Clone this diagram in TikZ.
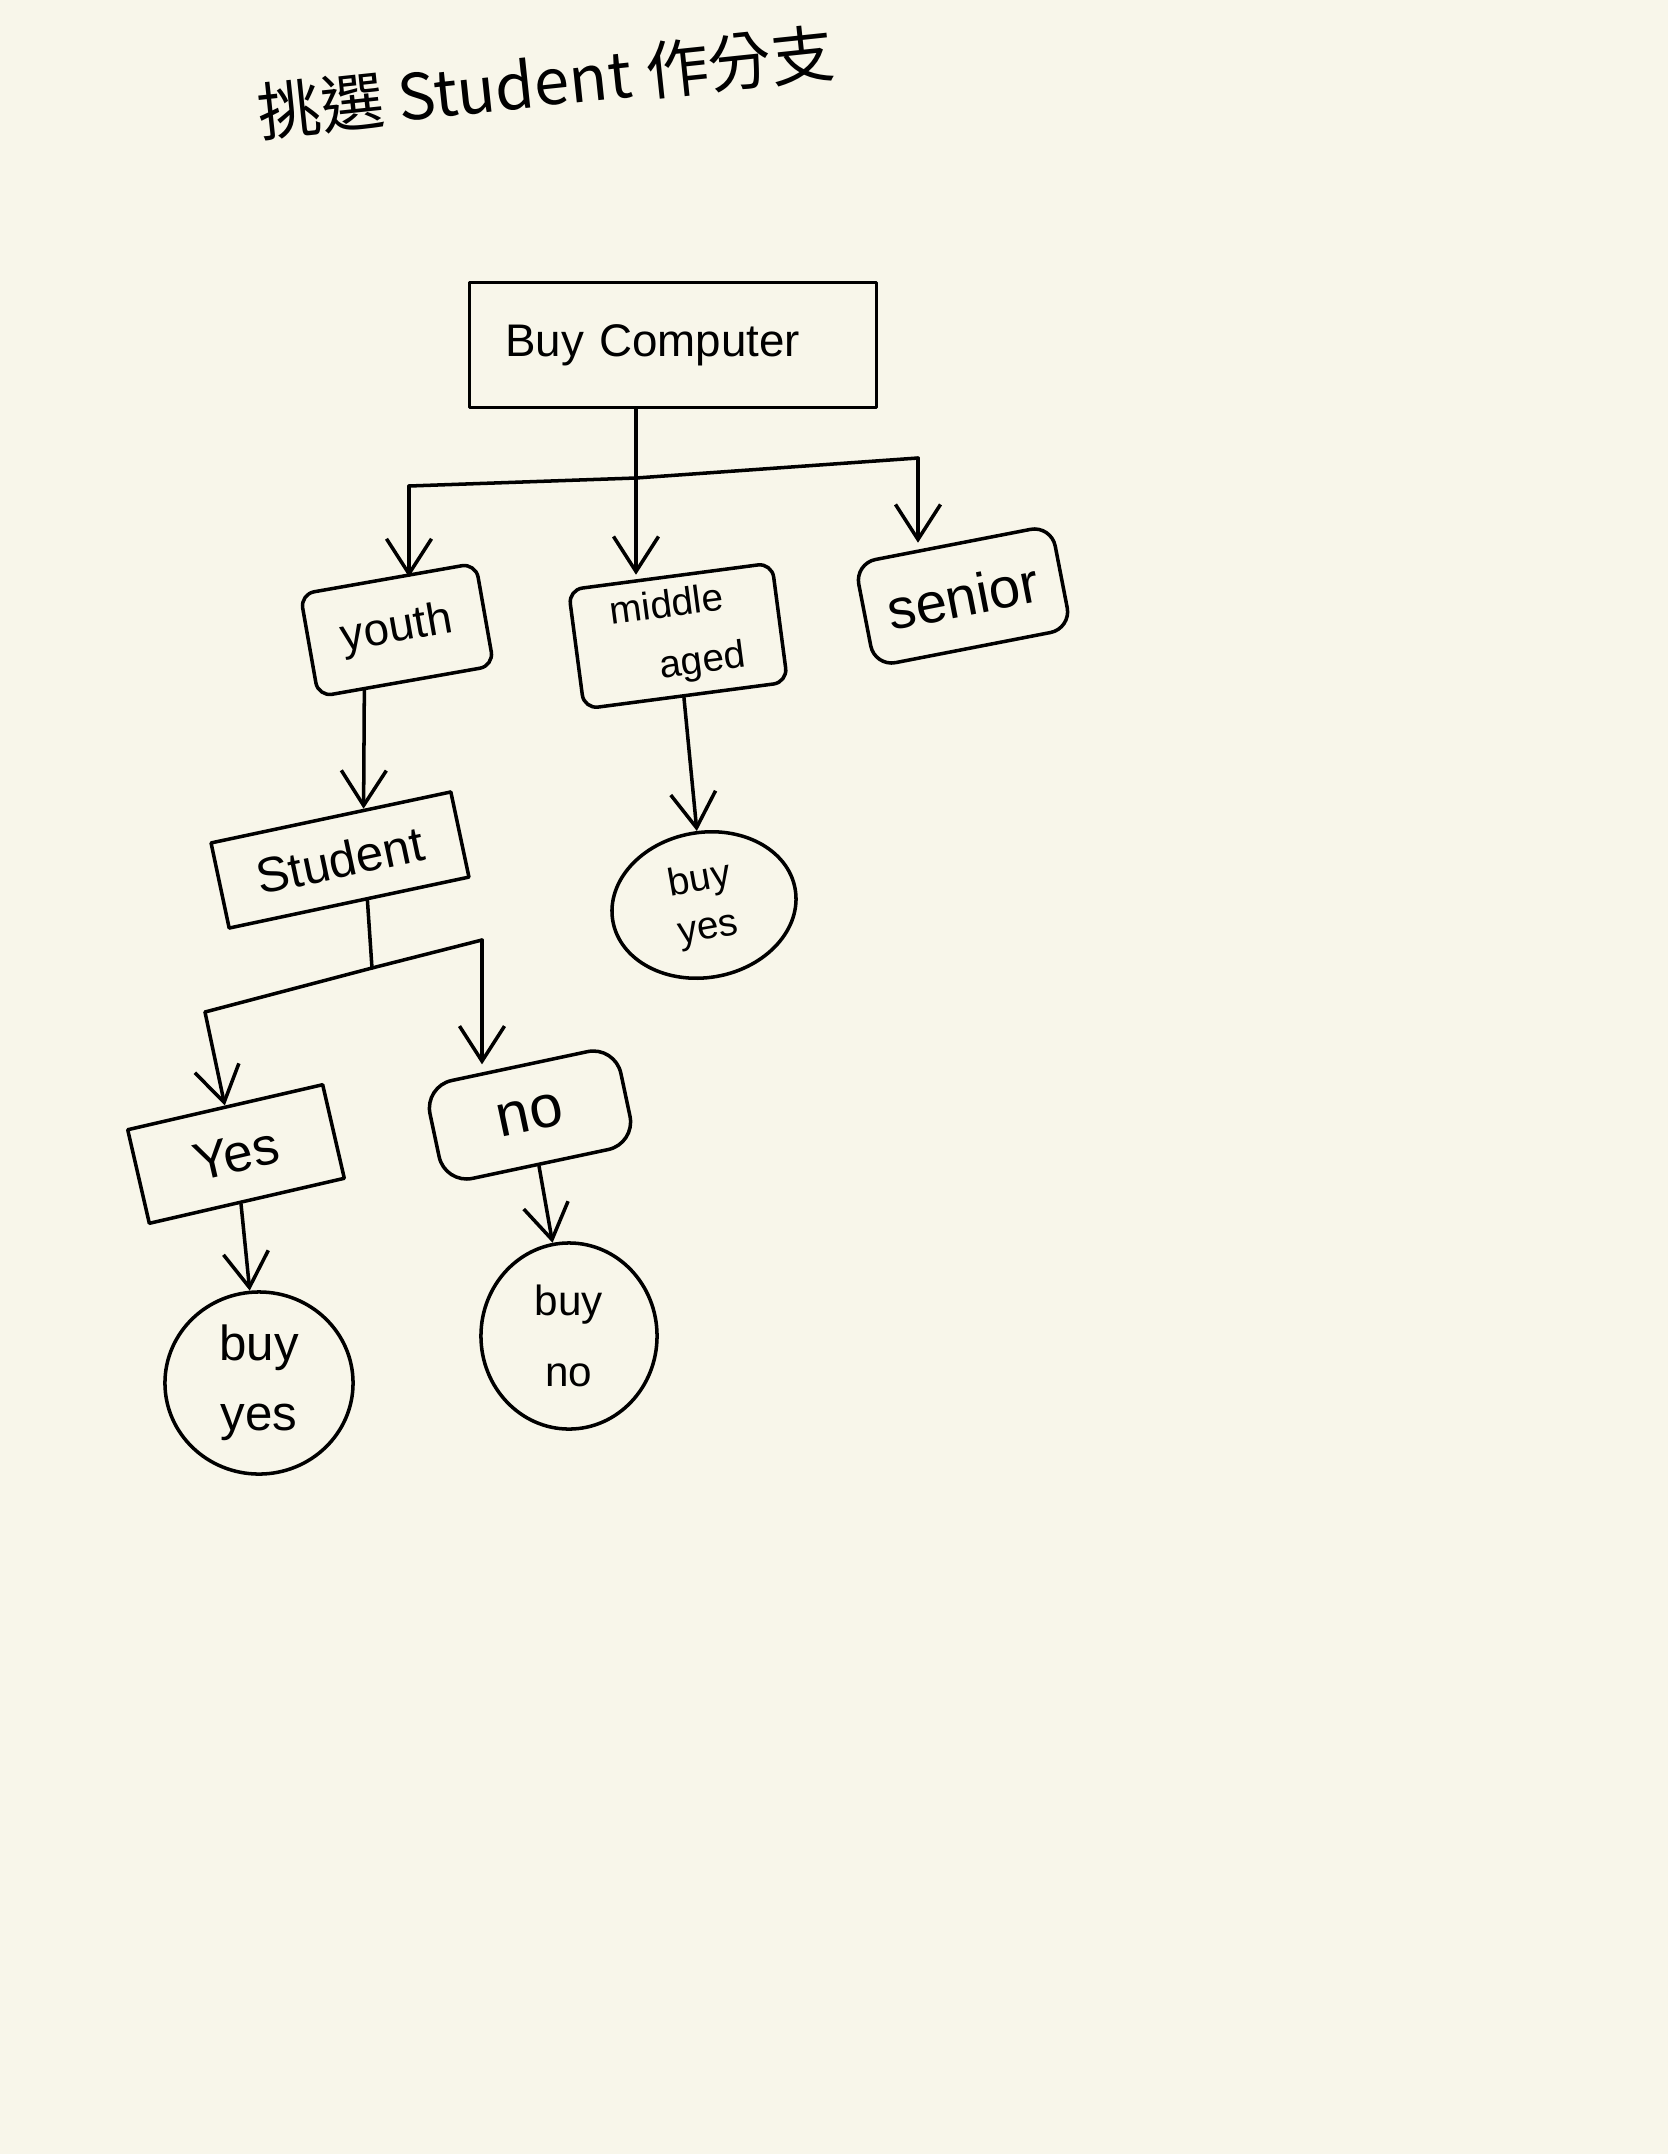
\documentclass[tikz,border=0pt]{standalone}
\usepackage{fontspec}
\setmainfont{Liberation Sans}
\newfontfamily\cjk{Noto Sans CJK TC}
\usetikzlibrary{arrows.meta,shapes.geometric,calc}
\definecolor{paper}{HTML}{F8F6EA}
\begin{document}
\begin{tikzpicture}[x=0.01cm,y=-0.01cm,
  ink/.style={line width=1pt,draw=black,line cap=round,line join=round},
  arr/.style={ink,-{Straight Barb[length=3.5mm,width=4.5mm]}},
  box/.style={ink,rectangle,inner sep=0pt},
  blob/.style={ink,ellipse,inner sep=0pt,align=center}]
\fill[paper] (0,0) rectangle (1668,2154);
\useasboundingbox (0,0) rectangle (1668,2154);

% title
\node[font=\cjk\fontsize{18}{20}\selectfont,rotate=6] (title) at (546,82) {挑選 Student 作分支};

% nodes
\node[ink,rectangle,text width=3.35cm,inner xsep=0.36cm,align=left,minimum height=1.25cm,
      font=\fontsize{13}{15}\selectfont] (root) at (673,345) {Buy Computer};
\node[box,rounded corners=4pt,minimum width=1.78cm,minimum height=1.04cm,rotate=10,
      font=\fontsize{13}{15}\selectfont] (youth) at (397,630) {youth};
\node[box,rounded corners=4pt,minimum width=2.05cm,minimum height=1.2cm,rotate=7.5,align=left,
      font=\fontsize{11}{17}\selectfont] (middle) at (678,636) {middle\\\hspace*{1.1em}aged};
\node[box,rounded corners=6pt,minimum width=2.0cm,minimum height=1.05cm,rotate=11,
      font=\fontsize{16}{18}\selectfont] (senior) at (963,596) {senior};
\node[box,minimum width=2.45cm,minimum height=0.87cm,rotate=12,
      font=\fontsize{14}{16}\selectfont] (student) at (340,860) {Student};
\node[blob,minimum width=1.85cm,minimum height=1.45cm,rotate=10,
      font=\fontsize{11}{14}\selectfont] (buy1) at (704,905) {buy\\yes};
\node[box,minimum width=2.0cm,minimum height=0.96cm,rotate=13,
      font=\fontsize{15}{17}\selectfont] (yes) at (236,1154) {Yes};
\node[box,rounded corners=8pt,minimum width=1.95cm,minimum height=1.0cm,rotate=12,
      font=\fontsize{17}{19}\selectfont] (no) at (530,1115) {no};
\node[blob,minimum width=1.88cm,minimum height=1.82cm,
      font=\fontsize{14}{20}\selectfont] (buy2) at (259,1383) {buy\\yes};
\node[blob,minimum width=1.76cm,minimum height=1.86cm,
      font=\fontsize{12}{20}\selectfont] (buy3) at (569,1336) {buy\\no};

% root branches
\coordinate (rbl) at (409,486);
\coordinate (rbm) at (636,478);
\coordinate (rbr) at (918,458);
\draw[ink] ($(root.south)+(-37,0)$) -- (rbm);
\draw[ink] (rbl) -- (rbm) -- (rbr);
\draw[arr] (rbl) -- (rbl |- youth.north);
\draw[arr] (rbm) -- (rbm |- middle.north);
\draw[arr] (rbr) -- (rbr |- senior.north);

% youth -> student, middle -> buy
\draw[arr] ($(youth.south)+(-42,7)$) -- ($(student.north)+(33,-7)$);
\draw[arr] (middle) -- (buy1);

% student branches
\coordinate (sbl) at (205,1012);
\coordinate (sbm) at (372,968);
\coordinate (sbr) at (482,940);
\draw[ink] ($(student.south)+(18,-4)$) -- (sbm);
\draw[ink] (sbl) -- (sbm) -- (sbr);
\draw[arr] (sbl) -- (yes.north);
\draw[arr] (sbr) -- (sbr |- no.north);

% leaves
\draw[arr] (yes) -- (buy2);
\draw[arr] (no) -- (buy3);
\end{tikzpicture}
\end{document}
